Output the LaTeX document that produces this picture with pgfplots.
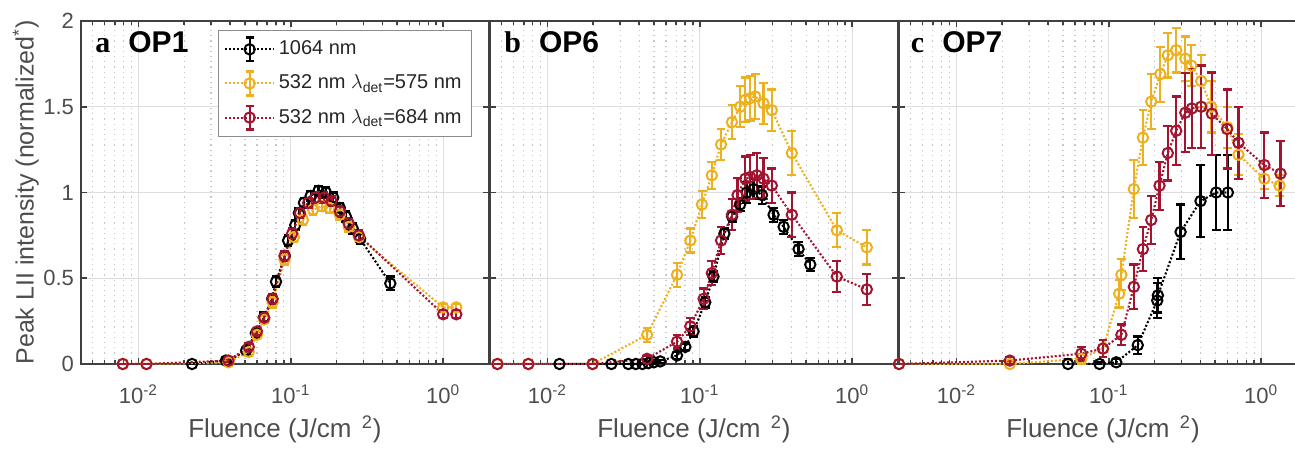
\documentclass[border=0pt]{standalone}
\usepackage{pgfplots}
\pgfplotsset{compat=1.18}
\usepackage{fontspec}
\setmainfont{Liberation Sans}
\newfontfamily\tnr{Liberation Serif}

\definecolor{cyel}{RGB}{237,177,32}
\definecolor{cred}{RGB}{162,20,47}
\definecolor{axgray}{RGB}{64,64,64}
\definecolor{txtgray}{RGB}{77,77,77}

% legend sample: dotted line, error bar with caps, open circle
\newcommand\legimg[1]{%
  \draw[#1, line width=1pt, dash pattern=on 1pt off 1pt] (0cm,0cm) -- (0.85cm,0cm);
  \draw[#1, solid, line width=1.1pt] (0.425cm,-0.21cm) -- (0.425cm,0.21cm)
    (0.355cm,-0.21cm) -- (0.495cm,-0.21cm) (0.355cm,0.21cm) -- (0.495cm,0.21cm);
  \draw[#1, solid, line width=1pt] (0.425cm,0cm) circle (2.6pt);}

\tikzset{plab/.style={anchor=base west, font=\fontsize{15}{17}\selectfont\bfseries}}

\pgfplotsset{
  sk/.style={color=black, mark=o, mark size=2.6pt, line width=1.05pt,
    dash pattern=on 1pt off 1pt, mark options={solid, line width=1pt}},
  sy/.style={sk, color=cyel},
  sr/.style={sk, color=cred},
  legK/.style={legend image code/.code={\legimg{black}}},
  legY/.style={legend image code/.code={\legimg{cyel}}},
  legR/.style={legend image code/.code={\legimg{cred}}},
  lpanel/.style={
    scale only axis, width=204pt, height=171.5pt,
    xmin=0.0042, xmax=2, ymin=0, ymax=2,
    xtick={0.01,0.1,1},
    xticklabels={10\textsuperscript{-2},10\textsuperscript{-1},10\textsuperscript{0}},
    minor xtick={0.005,0.006,0.007,0.008,0.009,0.02,0.03,0.04,0.05,0.06,0.07,0.08,0.09,0.2,0.3,0.4,0.5,0.6,0.7,0.8,0.9,2},
    ytick={0,0.5,1,1.5,2},
    xmajorgrids, ymajorgrids, xminorgrids,
    major grid style={draw=black!13, line width=0.6pt},
    minor grid style={draw=black!22, line width=0.6pt, dotted},
    axis line style={draw=axgray, line width=1.1pt},
    tick style={draw=axgray, line width=0.8pt},
    major tick length=2.8pt, minor tick length=2pt,
    tick label style={font=\fontsize{11}{13}\selectfont, text=txtgray},
    xticklabel style={anchor=base, yshift=-19.5pt},
    label style={font=\fontsize{12.5}{14}\selectfont, text=txtgray},
    xlabel={Fluence (J/cm \textsuperscript{\,2})},
    xlabel style={at={(axis description cs:0.5,-0.213)}, anchor=base, font=\fontsize{13}{15}\selectfont},
    error bars/y dir=both, error bars/y explicit,
    error bars/error bar style={solid, line width=1.1pt},
    error bars/error mark options={rotate=90, mark size=2.2pt, solid, line width=1.1pt},
  },
}

\begin{document}
\begin{tikzpicture}
% ---------- a OP1
\begin{semilogxaxis}[lpanel, at={(0pt,0pt)},
  yticklabels={0,0.5,1,1.5,2},
  ylabel={Peak LII intensity (normalized\textsuperscript{*})},
  ylabel style={at={(axis description cs:-0.135,0.5)}, anchor=center},
  legend cell align=left,
  legend style={at={(axis description cs:0.336,0.974)}, anchor=north west, draw=black!45, fill=white,
    font=\fontsize{10}{12}\selectfont, text=black!85, row sep=4pt, inner xsep=3pt, inner ysep=3pt}]
\addplot[sk, legK] coordinates {
 (0.0225,0) +- (0,0.005) (0.0375,0.02) +- (0,0.01) (0.0385,0.015) +- (0,0.01)
 (0.051,0.08) +- (0,0.02) (0.059,0.18) +- (0,0.02) (0.0665,0.27) +- (0,0.03)
 (0.0755,0.38) +- (0,0.03) (0.080,0.48) +- (0,0.03) (0.0915,0.63) +- (0,0.03)
 (0.096,0.72) +- (0,0.03) (0.107,0.81) +- (0,0.03) (0.113,0.88) +- (0,0.03)
 (0.122,0.94) +- (0,0.03) (0.135,0.98) +- (0,0.03) (0.152,1.01) +- (0,0.03)
 (0.17,1.0) +- (0,0.03) (0.19,0.97) +- (0,0.03) (0.21,0.91) +- (0,0.03)
 (0.23,0.86) +- (0,0.03) (0.255,0.79) +- (0,0.03) (0.285,0.73) +- (0,0.03)
 (0.45,0.47) +- (0,0.04)
};
\addlegendentry{1064 nm}
\addplot[sy, legY] coordinates {
 (0.0079,0) +- (0,0) (0.0113,0) +- (0,0) (0.039,0.01) +- (0,0.01)
 (0.053,0.07) +- (0,0.02) (0.06,0.17) +- (0,0.02) (0.067,0.26) +- (0,0.02)
 (0.076,0.36) +- (0,0.03) (0.091,0.61) +- (0,0.03) (0.105,0.74) +- (0,0.03)
 (0.12,0.84) +- (0,0.03) (0.14,0.90) +- (0,0.03) (0.16,0.92) +- (0,0.03)
 (0.18,0.91) +- (0,0.03) (0.21,0.87) +- (0,0.03) (0.24,0.80) +- (0,0.03)
 (0.28,0.74) +- (0,0.03) (1.0,0.33) +- (0,0.02) (1.22,0.33) +- (0,0.02)
};
\addlegendentry{532 nm $\lambda$\textsubscript{det}=575 nm}
\addplot[sr, legR] coordinates {
 (0.0079,0) +- (0,0) (0.0113,0) +- (0,0) (0.039,0.02) +- (0,0.01)
 (0.053,0.1) +- (0,0.02) (0.06,0.19) +- (0,0.02) (0.067,0.27) +- (0,0.02)
 (0.076,0.38) +- (0,0.03) (0.091,0.63) +- (0,0.03) (0.102,0.76) +- (0,0.03)
 (0.115,0.88) +- (0,0.03) (0.13,0.94) +- (0,0.03) (0.145,0.97) +- (0,0.03)
 (0.165,0.97) +- (0,0.03) (0.185,0.95) +- (0,0.03) (0.21,0.89) +- (0,0.03)
 (0.24,0.82) +- (0,0.03) (0.28,0.75) +- (0,0.03) (1.0,0.29) +- (0,0.02)
 (1.22,0.29) +- (0,0.02)
};
\addlegendentry{532 nm $\lambda$\textsubscript{det}=684 nm}
\node[plab] at (axis description cs:0.018,0.907) {{\tnr a}\hspace{0.6em}OP1};
\end{semilogxaxis}
% ---------- b OP6
\begin{semilogxaxis}[lpanel, at={(204.5pt,0pt)}, yticklabels={}]
\addplot[sk] coordinates {
 (0.012,0) +- (0,0) (0.0263,0) +- (0,0) (0.034,0) +- (0,0) (0.038,0) +- (0,0)
 (0.042,0) +- (0,0.005) (0.046,0.005) +- (0,0.01) (0.05,0.01) +- (0,0.01)
 (0.055,0.015) +- (0,0.01) (0.0709,0.05) +- (0,0.02) (0.0804,0.10) +- (0,0.02)
 (0.091,0.19) +- (0,0.03) (0.1086,0.36) +- (0,0.03) (0.123,0.51) +- (0,0.03)
 (0.145,0.76) +- (0,0.03) (0.163,0.86) +- (0,0.03) (0.184,0.93) +- (0,0.04)
 (0.203,1.0) +- (0,0.06) (0.225,1.02) +- (0,0.06) (0.256,0.985) +- (0,0.05)
 (0.305,0.87) +- (0,0.04) (0.355,0.80) +- (0,0.04) (0.445,0.67) +- (0,0.04)
 (0.531,0.58) +- (0,0.04)
};
\addplot[sy] coordinates {
 (0.0047,0) +- (0,0) (0.0075,0) +- (0,0) (0.0198,0) +- (0,0)
 (0.0451,0.17) +- (0,0.04) (0.0709,0.52) +- (0,0.07) (0.0867,0.72) +- (0,0.07)
 (0.1033,0.93) +- (0,0.08) (0.12,1.10) +- (0,0.08) (0.138,1.28) +- (0,0.09)
 (0.1626,1.41) +- (0,0.1) (0.1844,1.50) +- (0,0.12) (0.199,1.54) +- (0,0.13)
 (0.214,1.55) +- (0,0.13) (0.231,1.56) +- (0,0.13) (0.262,1.52) +- (0,0.12)
 (0.297,1.48) +- (0,0.12) (0.402,1.23) +- (0,0.13) (0.794,0.78) +- (0,0.1)
 (1.248,0.68) +- (0,0.1)
};
\addplot[sr] coordinates {
 (0.0047,0) +- (0,0) (0.0075,0) +- (0,0) (0.0198,0) +- (0,0)
 (0.0451,0.03) +- (0,0.02) (0.0709,0.13) +- (0,0.04) (0.0867,0.22) +- (0,0.05)
 (0.106,0.38) +- (0,0.06) (0.12,0.53) +- (0,0.07) (0.138,0.72) +- (0,0.08)
 (0.1626,0.87) +- (0,0.09) (0.177,0.985) +- (0,0.1) (0.199,1.08) +- (0,0.13)
 (0.214,1.09) +- (0,0.13) (0.237,1.10) +- (0,0.13) (0.262,1.08) +- (0,0.12)
 (0.297,1.04) +- (0,0.1) (0.402,0.87) +- (0,0.13) (0.794,0.51) +- (0,0.09)
 (1.248,0.435) +- (0,0.09)
};
\node[plab] at (axis description cs:0.018,0.907) {{\tnr b}\hspace{0.6em}OP6};
\end{semilogxaxis}
% ---------- c OP7
\begin{semilogxaxis}[lpanel, at={(409pt,0pt)}, yticklabels={}]
\addplot[sk] coordinates {
 (0.054,0) +- (0,0.03) (0.087,0) +- (0,0.01) (0.112,0.01) +- (0,0.02)
 (0.155,0.11) +- (0,0.05) (0.208,0.37) +- (0,0.1) (0.21,0.40) +- (0,0.1)
 (0.296,0.77) +- (0,0.16) (0.40,0.95) +- (0,0.21) (0.507,1.0) +- (0,0.22)
 (0.605,1.0) +- (0,0.22)
};
\addplot[sy] coordinates {
 (0.0042,0) +- (0,0) (0.0224,0) +- (0,0.01) (0.066,0.03) +- (0,0.03)
 (0.0916,0.09) +- (0,0.05) (0.117,0.41) +- (0,0.08) (0.121,0.52) +- (0,0.09)
 (0.146,1.02) +- (0,0.17) (0.1675,1.32) +- (0,0.16) (0.19,1.53) +- (0,0.16)
 (0.218,1.69) +- (0,0.16) (0.244,1.80) +- (0,0.13) (0.277,1.83) +- (0,0.13)
 (0.318,1.78) +- (0,0.13) (0.348,1.74) +- (0,0.12) (0.404,1.65) +- (0,0.15)
 (0.47,1.50) +- (0,0.15) (0.60,1.38) +- (0,0.12) (0.71,1.22) +- (0,0.12)
 (1.05,1.08) +- (0,0.06) (1.32,1.04) +- (0,0.06)
};
\addplot[sr] coordinates {
 (0.0042,0) +- (0,0) (0.0224,0.02) +- (0,0.02) (0.066,0.06) +- (0,0.04)
 (0.0916,0.09) +- (0,0.05) (0.121,0.17) +- (0,0.06) (0.146,0.45) +- (0,0.13)
 (0.1675,0.67) +- (0,0.13) (0.19,0.84) +- (0,0.14) (0.2153,1.04) +- (0,0.14)
 (0.244,1.23) +- (0,0.16) (0.277,1.36) +- (0,0.2) (0.318,1.465) +- (0,0.23)
 (0.351,1.49) +- (0,0.23) (0.404,1.50) +- (0,0.24) (0.475,1.46) +- (0,0.24)
 (0.598,1.37) +- (0,0.23) (0.71,1.29) +- (0,0.21) (1.05,1.16) +- (0,0.19)
 (1.34,1.11) +- (0,0.19)
};
\node[plab] at (axis description cs:0.012,0.907) {{\tnr c}\hspace{0.6em}OP7};
\end{semilogxaxis}
\pgfresetboundingbox
\path[use as bounding box] (-40.5pt,-42.5pt) rectangle (607pt,182pt);
\end{tikzpicture}
\end{document}
